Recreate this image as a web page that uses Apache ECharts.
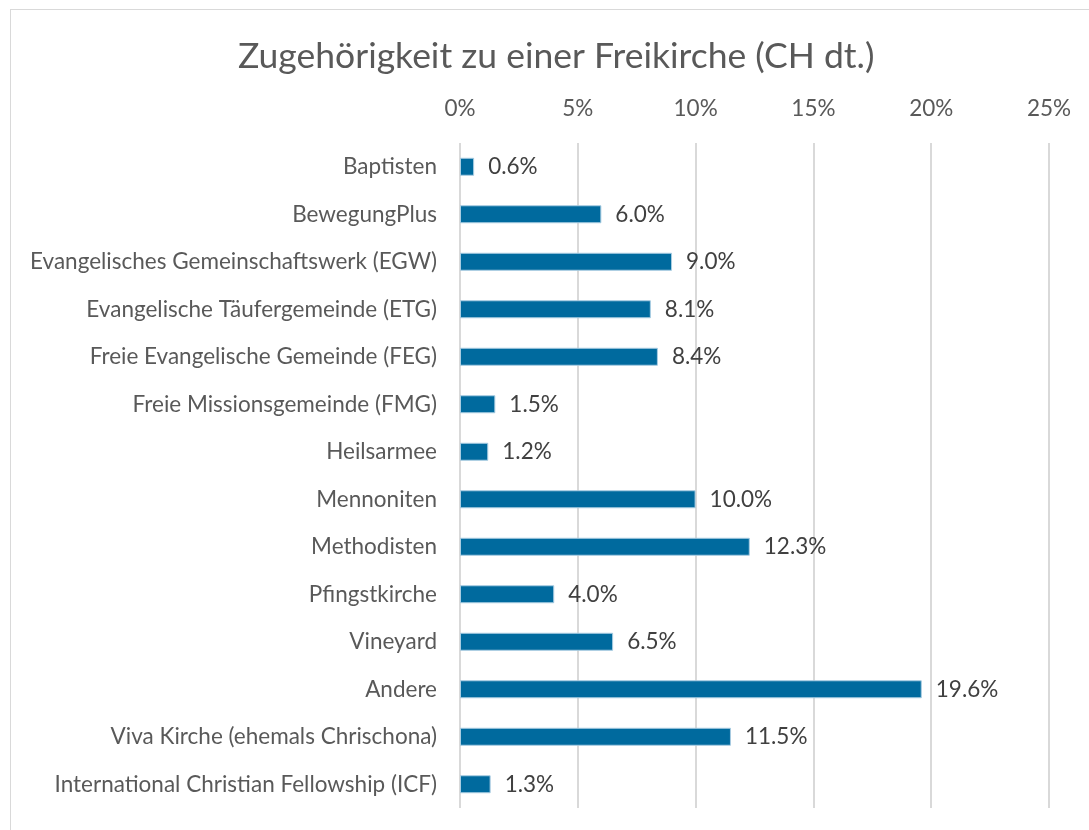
<!DOCTYPE html>
<html>
<head>
<meta charset="utf-8">
<script src="https://cdn.jsdelivr.net/npm/echarts@6/dist/echarts.min.js"></script>
<style>
  html, body { margin: 0; padding: 0; background: #fff; overflow: hidden; }
  #frame {
    position: absolute; left: 10px; top: 9px; width: 1200px; height: 900px;
    border: 1px solid #d9d9d9; box-sizing: border-box;
  }
  #chart { position: absolute; left: 0; top: 0; width: 1089px; height: 830px; }
</style>
</head>
<body>
<div id="frame"></div>
<div id="chart"></div>
<script>
// Kategorien von oben nach unten
const categories = [
  "Baptisten",
  "BewegungPlus",
  "Evangelisches Gemeinschaftswerk (EGW)",
  "Evangelische Täufergemeinde (ETG)",
  "Freie Evangelische Gemeinde (FEG)",
  "Freie Missionsgemeinde (FMG)",
  "Heilsarmee",
  "Mennoniten",
  "Methodisten",
  "Pfingstkirche",
  "Vineyard",
  "Andere",
  "Viva Kirche (ehemals Chrischona)",
  "International Christian Fellowship (ICF)"
];
const shares = [0.6, 6.0, 9.0, 8.1, 8.4, 1.5, 1.2, 10.0, 12.3, 4.0, 6.5, 19.6, 11.5, 1.3];
const axisMax = 25;
const axisStep = 5;

const font = "Lato, 'Noto Sans', sans-serif";
const chart = echarts.init(document.getElementById("chart"));

chart.setOption({
  animation: false,
  title: {
    text: "Zugehörigkeit zu einer Freikirche (CH dt.)",
    left: 233,
    top: 34,
    textStyle: { fontFamily: font, fontSize: 35.5, fontWeight: "normal", color: "#595959" }
  },
  grid: { left: 460, right: 40, top: 143, bottom: 22 },
  xAxis: {
    type: "value",
    position: "top",
    min: 0,
    max: axisMax,
    interval: axisStep,
    axisLine: { show: false },
    axisTick: { show: false },
    axisLabel: {
      margin: 23,
      formatter: v => v + "%",
      fontFamily: font, fontSize: 22.5, color: "#595959"
    },
    splitLine: { lineStyle: { color: "#d9d9d9", width: 2 } }
  },
  yAxis: {
    type: "category",
    data: categories,
    inverse: true,
    axisLine: { show: false },
    axisTick: { show: false },
    axisLabel: { margin: 23, fontFamily: font, fontSize: 22.5, color: "#595959" }
  },
  series: [{
    type: "bar",
    data: shares,
    barWidth: 18,
    itemStyle: { color: "#006a9e", borderColor: "#a9cde2", borderWidth: 1 },
    label: {
      show: true,
      position: "right",
      distance: 14,
      formatter: p => p.value.toFixed(1) + "%",
      fontFamily: font, fontSize: 22.5, color: "#404040"
    }
  }]
});
</script>
</body>
</html>
